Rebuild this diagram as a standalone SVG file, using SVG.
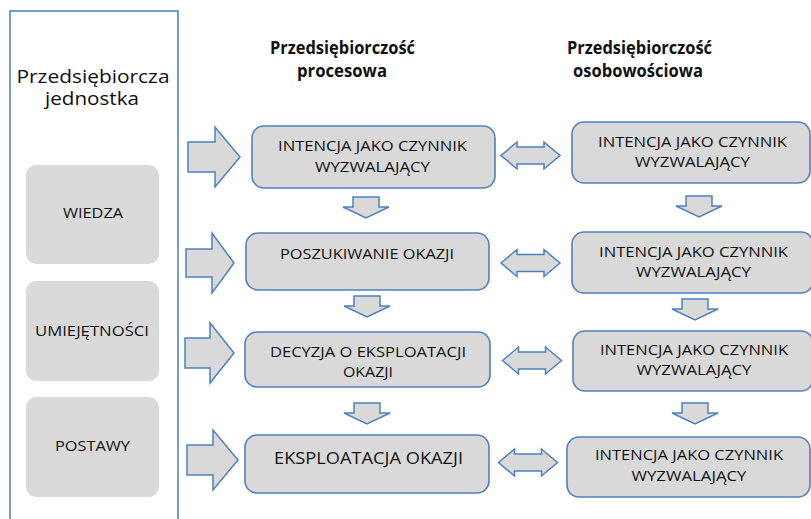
<svg xmlns="http://www.w3.org/2000/svg" width="811" height="519" viewBox="0 0 811 519">
<defs>
<style>
.panel{fill:#ffffff;stroke:#4a7ebb;stroke-width:1.5}
.tile{fill:#dadada}
.box{fill:#d9d9d9;stroke:#4f81bd;stroke-width:1.6}
.arr{fill:#d9d9d9;stroke:#4f81bd;stroke-width:1.5;stroke-linejoin:miter}
.t{font-family:"Open Sans","Liberation Sans",sans-serif;fill:#111111;text-anchor:middle}
.s{font-size:14px}
.h{font-size:17px;font-weight:bold}
.big{font-size:18px}
</style>
<polygon id="down" points="-13,0 13,0 13,10 23,10 0,21 -23,10 -13,10"/>
<polygon id="dbl" points="-29.5,0 -13.5,-13.5 -13.5,-8.5 13.5,-8.5 13.5,-13.5 29.5,0 13.5,13.5 13.5,8.5 -13.5,8.5 -13.5,13.5"/>
</defs>
<rect width="811" height="519" fill="#ffffff"/>

<g id="panel-jednostka">
<rect class="panel" x="10" y="11" width="168" height="520"/>
<text class="t big" x="93" y="83" textLength="153" lengthAdjust="spacingAndGlyphs">Przedsiębiorcza</text>
<text class="t big" x="92" y="105" textLength="94" lengthAdjust="spacingAndGlyphs">jednostka</text>
</g>

<g id="tile-wiedza">
<rect class="tile" x="26" y="165" width="133" height="99" rx="10"/>
<text class="t s" x="93" y="218" textLength="60" lengthAdjust="spacingAndGlyphs">WIEDZA</text>
</g>
<g id="tile-umiejetnosci">
<rect class="tile" x="26" y="281" width="133" height="100" rx="10"/>
<text class="t s" x="92" y="336" textLength="114" lengthAdjust="spacingAndGlyphs">UMIEJĘTNOŚCI</text>
</g>
<g id="tile-postawy">
<rect class="tile" x="26" y="397" width="133" height="100" rx="10"/>
<text class="t s" x="92.5" y="451" textLength="75" lengthAdjust="spacingAndGlyphs">POSTAWY</text>
</g>

<g id="header-procesowa">
<text class="t h" x="342.5" y="54" textLength="145" lengthAdjust="spacingAndGlyphs">Przedsiębiorczość</text>
<text class="t h" x="342" y="77" textLength="90" lengthAdjust="spacingAndGlyphs">procesowa</text>
</g>
<g id="header-osobowosciowa">
<text class="t h" x="639.5" y="54" textLength="145" lengthAdjust="spacingAndGlyphs">Przedsiębiorczość</text>
<text class="t h" x="638" y="77" textLength="130" lengthAdjust="spacingAndGlyphs">osobowościowa</text>
</g>

<g id="p1">
<rect class="box" x="252" y="126" width="243" height="62" rx="12"/>
<text class="t s" x="372.5" y="151" textLength="189" lengthAdjust="spacingAndGlyphs">INTENCJA JAKO CZYNNIK</text>
<text class="t s" x="372.5" y="172" textLength="115" lengthAdjust="spacingAndGlyphs">WYZWALAJĄCY</text>
</g>
<g id="p2">
<rect class="box" x="246" y="233" width="243" height="57" rx="12"/>
<text class="t s" x="367" y="259" textLength="174" lengthAdjust="spacingAndGlyphs">POSZUKIWANIE OKAZJI</text>
</g>
<g id="p3">
<rect class="box" x="245" y="332" width="245" height="55" rx="12"/>
<text class="t s" x="368" y="357" textLength="196" lengthAdjust="spacingAndGlyphs">DECYZJA O EKSPLOATACJI</text>
<text class="t s" x="368" y="377" textLength="50" lengthAdjust="spacingAndGlyphs">OKAZJI</text>
</g>
<g id="p4">
<rect class="box" x="245" y="435" width="244" height="58" rx="12"/>
<text class="t" style="font-size:16.5px" x="368.5" y="464" textLength="189" lengthAdjust="spacingAndGlyphs">EKSPLOATACJA OKAZJI</text>
</g>

<g id="o1">
<rect class="box" x="572" y="122" width="238" height="61" rx="12"/>
<text class="t s" x="692.5" y="147" textLength="189" lengthAdjust="spacingAndGlyphs">INTENCJA JAKO CZYNNIK</text>
<text class="t s" x="692.5" y="167" textLength="115" lengthAdjust="spacingAndGlyphs">WYZWALAJĄCY</text>
</g>
<g id="o2">
<rect class="box" x="572" y="232" width="241" height="61" rx="12"/>
<text class="t s" x="693.5" y="257" textLength="189" lengthAdjust="spacingAndGlyphs">INTENCJA JAKO CZYNNIK</text>
<text class="t s" x="693.5" y="277" textLength="115" lengthAdjust="spacingAndGlyphs">WYZWALAJĄCY</text>
</g>
<g id="o3">
<rect class="box" x="573" y="331" width="240" height="60" rx="12"/>
<text class="t s" x="694" y="355" textLength="188" lengthAdjust="spacingAndGlyphs">INTENCJA JAKO CZYNNIK</text>
<text class="t s" x="694" y="375" textLength="115" lengthAdjust="spacingAndGlyphs">WYZWALAJĄCY</text>
</g>
<g id="o4">
<rect class="box" x="567" y="437" width="243" height="60" rx="12"/>
<text class="t s" x="689" y="460" textLength="188" lengthAdjust="spacingAndGlyphs">INTENCJA JAKO CZYNNIK</text>
<text class="t s" x="689" y="481" textLength="115" lengthAdjust="spacingAndGlyphs">WYZWALAJĄCY</text>
</g>

<g id="connectors">
<polygon class="arr" points="188,142 215,142 215,127 240,157 215,187 215,172 188,172"/>
<polygon class="arr" points="186,249 212,249 212,233 234,263 212,293 212,277 186,277"/>
<polygon class="arr" points="185,338 210,338 210,323 234,353 210,383 210,368 185,368"/>
<polygon class="arr" points="187,445 213,445 213,430 238,460 213,490 213,475 187,475"/>

<use href="#down" class="arr" x="366" y="197"/>
<use href="#down" class="arr" x="367" y="296"/>
<use href="#down" class="arr" x="367" y="403"/>

<use href="#down" class="arr" x="699" y="196"/>
<use href="#down" class="arr" x="695" y="299"/>
<use href="#down" class="arr" x="695" y="403"/>

<use href="#dbl" class="arr" x="530.5" y="155.5"/>
<use href="#dbl" class="arr" x="530.5" y="263"/>
<use href="#dbl" class="arr" x="532" y="360.5"/>
<use href="#dbl" class="arr" x="528" y="462.5"/>
</g>
</svg>
